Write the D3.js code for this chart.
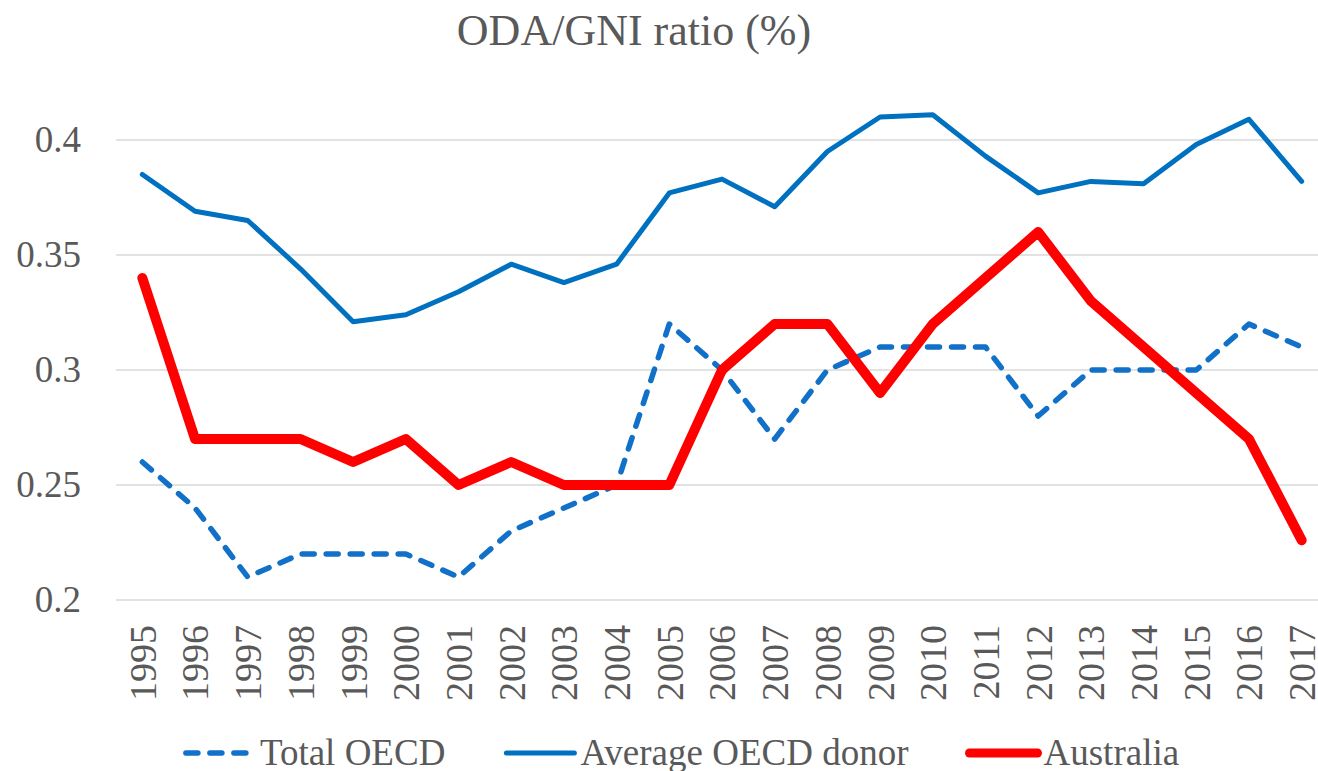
<!DOCTYPE html>
<html>
<head>
<meta charset="utf-8">
<script src="https://cdn.jsdelivr.net/npm/d3@7"></script>
<style>
  html, body { margin: 0; padding: 0; background: #fff; }
  svg text { font-family: 'Liberation Serif', 'DejaVu Serif', serif; fill: #595959; }
</style>
</head>
<body>
<div id="chart"></div>
<script>
const years = ['1995', '1996', '1997', '1998', '1999', '2000', '2001', '2002', '2003', '2004', '2005', '2006',
  '2007', '2008', '2009', '2010', '2011', '2012', '2013', '2014', '2015', '2016', '2017']
const totalOECD = [0.26, 0.24, 0.21, 0.22, 0.22, 0.22, 0.21, 0.23, 0.24, 0.25, 0.32, 0.30,
  0.27, 0.30, 0.31, 0.31, 0.31, 0.28, 0.30, 0.30, 0.30, 0.32, 0.31]
const averageDonor = [0.385, 0.369, 0.365, 0.344, 0.321, 0.324, 0.334, 0.346, 0.338, 0.346, 0.377, 0.383,
  0.371, 0.395, 0.410, 0.411, 0.393, 0.377, 0.382, 0.381, 0.398, 0.409, 0.382]
const australia = [0.34, 0.27, 0.27, 0.27, 0.26, 0.27, 0.25, 0.26, 0.25, 0.25, 0.25, 0.30,
  0.32, 0.32, 0.29, 0.32, 0.34, 0.36, 0.33, 0.31, 0.29, 0.27, 0.226]
const yTicks = [0.2, 0.25, 0.3, 0.35, 0.4]
const seriesNames = ['Total OECD', 'Average OECD donor', 'Australia']

const width = 1318
const height = 771
const margin = { top: 140, right: -10, bottom: 171, left: 116 }

// one entry per line, styles kept here and not in the data arrays
const series = [
  { name: seriesNames[0], values: totalOECD, color: '#1170c8', width: 5.5, dash: '12,12' },
  { name: seriesNames[1], values: averageDonor, color: '#0070c0', width: 5, dash: null },
  { name: seriesNames[2], values: australia, color: '#ff0000', width: 10, dash: null }
]

const svg = d3.select('#chart')
  .append('svg')
  .attr('width', width)
  .attr('height', height)

const x = d3.scalePoint()
  .domain(years)
  .range([margin.left, width - margin.right])
  .padding(0.5)

const y = d3.scaleLinear()
  .domain([0.2, 0.4])
  .range([height - margin.bottom, margin.top])

// title
svg.append('text')
  .attr('x', 634)
  .attr('y', 45)
  .attr('text-anchor', 'middle')
  .style('font-size', '44px')
  .text('ODA/GNI ratio (%)')

// gridlines
svg.append('g')
  .selectAll('line')
  .data(yTicks)
  .enter()
  .append('line')
  .attr('x1', margin.left)
  .attr('x2', width - margin.right)
  .attr('y1', d => y(d))
  .attr('y2', d => y(d))
  .attr('stroke', '#d9d9d9')
  .attr('stroke-width', 1.3)

// y axis labels
const yAxis = svg.append('g')
  .attr('transform', `translate(${margin.left},0)`)
  .call(d3.axisLeft(y).tickValues(yTicks).tickSize(0).tickPadding(35).tickFormat(d3.format('')))
yAxis.select('.domain').remove()
yAxis.selectAll('text')
  .style('font-size', '37px')
  .attr('dy', '0.32em')

// x axis labels, rotated
const xAxis = svg.append('g')
  .attr('transform', `translate(0,${y(0.2)})`)
  .call(d3.axisBottom(x).tickSize(0))
xAxis.select('.domain').remove()
xAxis.selectAll('text')
  .style('font-size', '38px')
  .attr('text-anchor', 'end')
  .attr('transform', 'rotate(-90)')
  .attr('x', -25)
  .attr('y', 0)
  .attr('dy', '0.34em')

// lines
const line = d3.line()
  .x((d, i) => x(years[i]))
  .y(d => y(d))

svg.append('g')
  .selectAll('path')
  .data(series)
  .enter()
  .append('path')
  .attr('d', d => line(d.values))
  .attr('fill', 'none')
  .attr('stroke', d => d.color)
  .attr('stroke-width', d => d.width)
  .attr('stroke-dasharray', d => d.dash)
  .attr('stroke-linejoin', 'round')
  .attr('stroke-linecap', 'round')

// legend
const legend = svg.append('g')
const symbolLen = 74
const textGap = 3
const entryGap = 58
const items = legend.selectAll('g')
  .data(series)
  .enter()
  .append('g')

items.append('line')
  .attr('x1', 3)
  .attr('x2', symbolLen - 3)
  .attr('y1', 0)
  .attr('y2', 0)
  .attr('stroke', d => d.color)
  .attr('stroke-width', d => Math.min(d.width, 9))
  .attr('stroke-dasharray', d => d.dash)
  .attr('stroke-linecap', 'round')

items.append('text')
  .attr('x', symbolLen + textGap)
  .attr('y', 0)
  .attr('dy', '0.33em')
  .style('font-size', '37px')
  .text(d => d.name)

let offset = 0
items.each(function () {
  const w = symbolLen + textGap + d3.select(this).select('text').node().getComputedTextLength()
  d3.select(this).attr('transform', `translate(${offset},0)`)
  offset += w + entryGap
})
const legendWidth = offset - entryGap
legend.attr('transform', `translate(${681 - legendWidth / 2},753)`)
</script>
</body>
</html>
